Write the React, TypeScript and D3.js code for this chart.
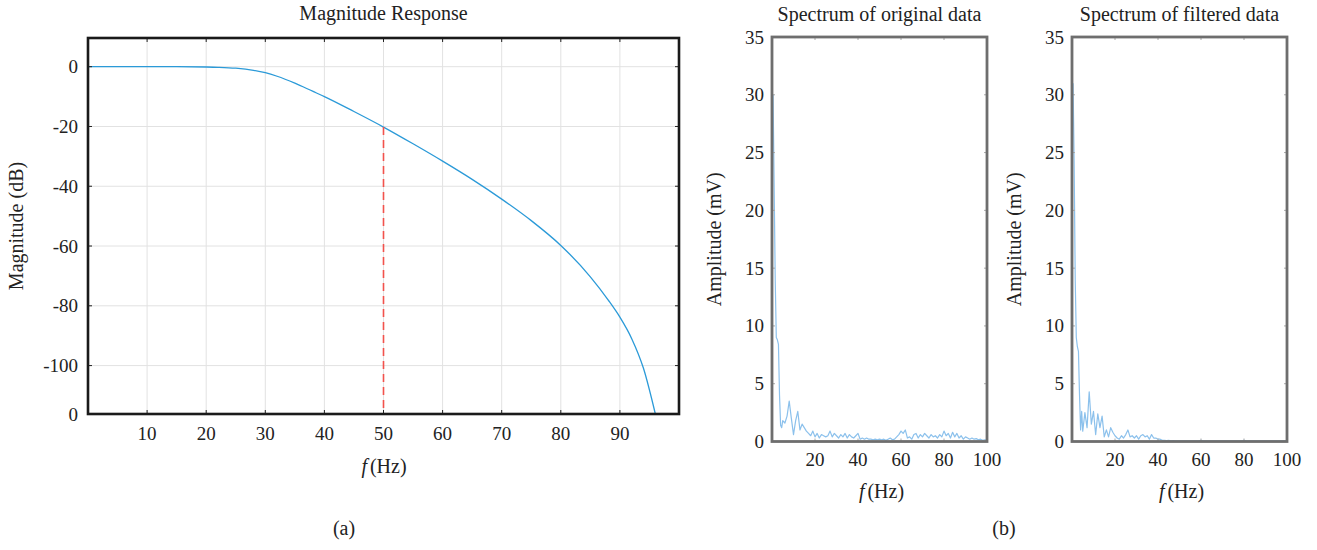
import React from "react";
import * as d3 from "d3";

// ---------- Panel (a): magnitude response ----------
const magFreq = [0, 5, 10, 15, 20, 22, 25, 28, 30, 32, 35, 38, 40, 45, 50, 55, 60, 65, 70, 75, 80, 85, 88, 90, 92, 94, 96];
const magDb = [0, 0, 0, 0, -0.1, -0.2, -0.5, -1.2, -2, -3.2, -5.5, -8.2, -10, -15, -20.2, -25.8, -31.6, -37.7, -44.3, -51.5, -59.8, -70.3, -78, -83.8, -91, -101, -116.2];
const magXTicks = [10, 20, 30, 40, 50, 60, 70, 80, 90];
const magYTicks = [0, -20, -40, -60, -80, -100, -116.2];
const magYTickLabels = ["0", "-20", "-40", "-60", "-80", "-100", "0"];
const cutoffFreq = 50;
const cutoffDb = -20.2;

// ---------- Panel (b): spectra ----------
const specFreq = [0.5, 1, 1.5, 2, 2.5, 3, 3.5, 4, 4.5, 5,
  6, 7, 8, 9, 10, 11, 12, 13, 14, 15, 16, 17, 18, 19, 20,
  21, 22, 23, 24, 25, 26, 27, 28, 29, 30, 31, 32, 33, 34, 35, 36, 37, 38, 39, 40,
  41, 42, 43, 44, 45, 46, 47, 48, 49, 50, 51, 52, 53, 54, 55, 56, 57, 58, 59, 60,
  61, 62, 63, 64, 65, 66, 67, 68, 69, 70, 71, 72, 73, 74, 75, 76, 77, 78, 79, 80,
  81, 82, 83, 84, 85, 86, 87, 88, 89, 90, 91, 92, 93, 94, 95, 96, 97, 98, 99, 100];
const originalAmp = [30, 22, 14, 9, 8.8, 8.4, 4, 1.4, 1.2, 1.8,
  1.6, 2.2, 3.5, 2.0, 0.6, 1.8, 2.6, 1.0, 1.5, 1.2, 0.9, 0.7, 0.5, 0.9, 0.4,
  0.7, 0.3, 0.6, 0.5, 0.4, 0.5, 0.9, 0.4, 0.7, 0.5, 0.3, 0.6, 0.4, 0.7, 0.3, 0.6, 0.4, 0.3, 0.5, 0.7,
  0.2, 0.3, 0.2, 0.3, 0.2, 0.2, 0.15, 0.2, 0.15, 0.2, 0.15, 0.2, 0.1, 0.2, 0.3, 0.15, 0.2, 0.4, 0.6, 0.9,
  0.7, 1.0, 0.3, 0.4, 0.2, 0.6, 0.7, 0.3, 0.6, 0.4, 0.7, 0.5, 0.3, 0.6, 0.4, 0.5, 0.3, 0.6, 0.4, 0.9,
  0.5, 0.7, 0.3, 0.8, 0.4, 0.7, 0.3, 0.5, 0.2, 0.4, 0.3, 0.2, 0.3, 0.2, 0.25, 0.15, 0.2, 0.1, 0.15, 0.1];
const filteredAmp = [31, 24, 14, 9, 8.2, 7.8, 4, 1.0, 2.6, 0.9,
  2.5, 1.2, 4.3, 1.5, 2.6, 0.6, 2.4, 1.2, 2.2, 0.4, 1.0, 0.4, 1.2, 0.8, 0.5,
  0.3, 0.2, 0.5, 0.3, 0.6, 1.0, 0.4, 0.5, 0.3, 0.5, 0.2, 0.5, 0.6, 0.4, 0.5, 0.2, 0.6, 0.3, 0.3, 0.2,
  0.2, 0.1, 0.1, 0.08, 0.1, 0.06, 0.08, 0.06, 0.05, 0.06, 0.05, 0.05, 0.05, 0.05, 0.05, 0.05, 0.05, 0.05, 0.05, 0.1,
  0.05, 0.05, 0.05, 0.05, 0.05, 0.05, 0.05, 0.05, 0.05, 0.05, 0.05, 0.05, 0.05, 0.05, 0.05, 0.05, 0.05, 0.05, 0.05, 0.1,
  0.05, 0.05, 0.05, 0.05, 0.05, 0.05, 0.05, 0.05, 0.05, 0.05, 0.05, 0.05, 0.05, 0.05, 0.05, 0.05, 0.05, 0.05, 0.05, 0.05];
const specXTicks = [20, 40, 60, 80, 100];
const specYTicks = [0, 5, 10, 15, 20, 25, 30, 35];

const FONT = "'Liberation Serif', 'Times New Roman', serif";
const TXT = "#222";
const TICK_FS = 19;
const LABEL_FS = 20;

function MagnitudePanel() {
  const left = 88, right = 679, top = 38, bottom = 414;
  const x = d3.scaleLinear().domain([0, 100]).range([left, right]);
  const y = d3.scaleLinear().domain([-116.2, 9.6]).range([bottom, top]);
  const pts = magFreq.map((f, i) => [f, magDb[i]] as [number, number]);
  const line = d3.line<[number, number]>().x(d => x(d[0])).y(d => y(d[1])).curve(d3.curveMonotoneX);
  return (
    <g fontFamily={FONT} fill={TXT}>
      <text x={(left + right) / 2} y={20} textAnchor="middle" fontSize={LABEL_FS}>Magnitude Response</text>
      {magXTicks.map(t => (
        <line key={"gx" + t} x1={x(t)} x2={x(t)} y1={top} y2={bottom} stroke="#e2e2e2" strokeWidth={1} />
      ))}
      {magYTicks.slice(0, 6).map(t => (
        <line key={"gy" + t} x1={left} x2={right} y1={y(t)} y2={y(t)} stroke="#e2e2e2" strokeWidth={1} />
      ))}
      <path d={line(pts) || ""} fill="none" stroke="#2b9ad8" strokeWidth={1.3} />
      <line x1={x(cutoffFreq)} x2={x(cutoffFreq)} y1={y(cutoffDb)} y2={bottom} stroke="#f2524c" strokeWidth={1.6} strokeDasharray="8,5" />
      {magXTicks.map(t => (
        <g key={"tx" + t}>
          <line x1={x(t)} x2={x(t)} y1={top} y2={top + 4} stroke="#222" strokeWidth={1} />
          <line x1={x(t)} x2={x(t)} y1={bottom} y2={bottom - 4} stroke="#222" strokeWidth={1} />
          <text x={x(t)} y={440} textAnchor="middle" fontSize={TICK_FS}>{t}</text>
        </g>
      ))}
      {magYTicks.map((t, i) => (
        <g key={"ty" + i}>
          {i < 6 && <line x1={left} x2={left + 4} y1={y(t)} y2={y(t)} stroke="#222" strokeWidth={1} />}
          {i < 6 && <line x1={right} x2={right - 4} y1={y(t)} y2={y(t)} stroke="#222" strokeWidth={1} />}
          <text x={78} y={y(t) + 6.5} textAnchor="end" fontSize={TICK_FS}>{magYTickLabels[i]}</text>
        </g>
      ))}
      <rect x={left} y={top} width={right - left} height={bottom - top} fill="none" stroke="#1a1a1a" strokeWidth={2.6} />
      <text transform={`translate(23,${(top + bottom) / 2}) rotate(-90)`} textAnchor="middle" fontSize={LABEL_FS}>Magnitude (dB)</text>
      <text x={384} y={473} textAnchor="middle" fontSize={LABEL_FS}>
        <tspan fontStyle="italic">f</tspan>
        <tspan dx={3}>(Hz)</tspan>
      </text>
    </g>
  );
}

function SpectrumPanel({ left, right, title, amp }: { left: number; right: number; title: string; amp: number[] }) {
  const top = 37, bottom = 441.5;
  const x = d3.scaleLinear().domain([0, 100]).range([left, right]);
  const y = d3.scaleLinear().domain([0, 35]).range([bottom, top]);
  const pts = specFreq.map((f, i) => [f, amp[i]] as [number, number]);
  const line = d3.line<[number, number]>().x(d => x(d[0])).y(d => y(d[1]));
  const cx = (left + right) / 2;
  return (
    <g fontFamily={FONT} fill={TXT}>
      <text x={cx} y={21} textAnchor="middle" fontSize={LABEL_FS}>{title}</text>
      <path d={line(pts) || ""} fill="none" stroke="#8cc1ec" strokeWidth={1.2} strokeLinejoin="round" />
      {specXTicks.map(t => (
        <g key={"sx" + t}>
          <line x1={x(t)} x2={x(t)} y1={top} y2={top + 3} stroke="#aaa" strokeWidth={1} />
          <line x1={x(t)} x2={x(t)} y1={bottom} y2={bottom - 3} stroke="#aaa" strokeWidth={1} />
          <text x={x(t)} y={466} textAnchor="middle" fontSize={TICK_FS}>{t}</text>
        </g>
      ))}
      {specYTicks.map(t => (
        <g key={"sy" + t}>
          <line x1={left} x2={left + 3} y1={y(t)} y2={y(t)} stroke="#aaa" strokeWidth={1} />
          <line x1={right} x2={right - 3} y1={y(t)} y2={y(t)} stroke="#aaa" strokeWidth={1} />
          <text x={left - 8} y={y(t) + 6.5} textAnchor="end" fontSize={TICK_FS}>{t}</text>
        </g>
      ))}
      <rect x={left} y={top} width={right - left} height={bottom - top} fill="none" stroke="#6e6e6e" strokeWidth={2.8} />
      <text transform={`translate(${left - 51},${(top + bottom) / 2}) rotate(-90)`} textAnchor="middle" fontSize={LABEL_FS}>Amplitude (mV)</text>
      <text x={cx + 2} y={498} textAnchor="middle" fontSize={LABEL_FS}>
        <tspan fontStyle="italic">f</tspan>
        <tspan dx={3}>(Hz)</tspan>
      </text>
    </g>
  );
}

export default function App() {
  return (
    <svg width={1317} height={550} style={{ position: "absolute", left: 0, top: 0, background: "#fff" }}>
      <rect x={0} y={0} width={1317} height={550} fill="#fff" />
      <MagnitudePanel />
      <SpectrumPanel left={772} right={987} title="Spectrum of original data" amp={originalAmp} />
      <SpectrumPanel left={1072} right={1287} title="Spectrum of filtered data" amp={filteredAmp} />
      <text x={344} y={535} textAnchor="middle" fontSize={LABEL_FS} fontFamily={FONT} fill={TXT}>(a)</text>
      <text x={1004} y={535} textAnchor="middle" fontSize={LABEL_FS} fontFamily={FONT} fill={TXT}>(b)</text>
    </svg>
  );
}
